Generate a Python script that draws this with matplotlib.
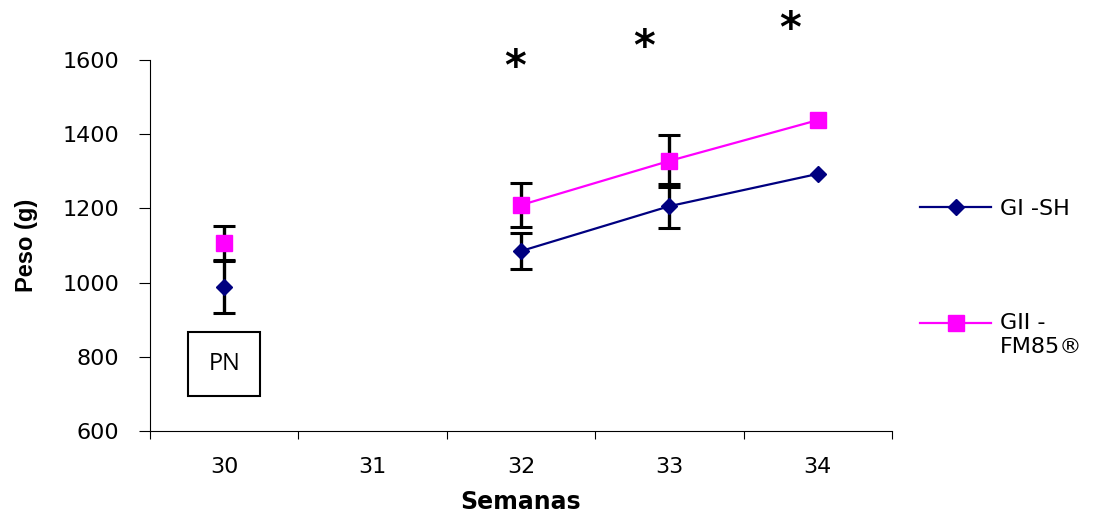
import numpy as np
import matplotlib
matplotlib.use("Agg")
import matplotlib.pyplot as plt
from matplotlib.lines import Line2D
from matplotlib.legend_handler import HandlerLine2D

semanas = ["30", "31", "32", "33", "34"]
gi_sh = [988, np.nan, 1085, 1206, 1293]
gi_sh_err = [70, np.nan, 49, 60, np.nan]
gii_fm85 = [1107, np.nan, 1209, 1328, 1438]
gii_fm85_err = [45, np.nan, 59, 70, np.nan]
labels = ["GI -SH", "GII -\nFM85®"]
star_pos = [(1.96, 1578), (2.83, 1632), (3.81, 1680)]

plt.rcParams['font.family'] = ['DejaVu Sans']


class TopLine(HandlerLine2D):
    # put the handle level with the first line of a two-line label
    def __init__(self, shift=0, **kw):
        super().__init__(**kw)
        self.shift = shift

    def create_artists(self, legend, orig_handle, xdescent, ydescent,
                       width, height, fontsize, trans):
        arts = super().create_artists(legend, orig_handle, xdescent, ydescent,
                                      width, height, fontsize, trans)
        for a in arts:
            a.set_ydata(np.asarray(a.get_ydata()) + self.shift)
        return arts


fig = plt.figure(figsize=(11.1, 5.17), dpi=100)
ax = fig.add_axes([150 / 1110, 86 / 517, 742 / 1110, 371 / 517])

x = np.arange(len(semanas))
navy = "#000080"
magenta = "#ff00ff"

# error bars behind the markers
ax.errorbar(x, gi_sh, yerr=gi_sh_err, fmt="none", ecolor="black",
            elinewidth=2.4, capsize=8, capthick=2.2, zorder=2)
ax.errorbar(x, gii_fm85, yerr=gii_fm85_err, fmt="none", ecolor="black",
            elinewidth=2.4, capsize=8, capthick=2.2, zorder=2)

ax.plot(x, gi_sh, color=navy, marker="D", markersize=8, lw=1.6, zorder=3)
ax.plot(x, gii_fm85, color=magenta, marker="s", markersize=11, lw=1.6, zorder=3)

ax.set_xlim(-0.5, 4.5)
ax.set_ylim(600, 1600)
ax.set_yticks(range(600, 1601, 200))
ax.set_xticks(np.arange(-0.5, 4.6, 1))
ax.set_xticklabels([])
ax.set_xticks(x, minor=True)
ax.set_xticklabels(semanas, minor=True)
ax.tick_params(axis="x", which="minor", length=0, pad=19, labelsize=16)
ax.tick_params(axis="x", which="major", length=6, direction="out")
ax.tick_params(axis="y", length=8, direction="out", labelsize=16, pad=14)
for s in ["top", "right"]:
    ax.spines[s].set_visible(False)

ax.set_ylabel("Peso (g)", fontsize=17, fontweight="bold",
              family=["Liberation Sans", "DejaVu Sans"])
ax.yaxis.set_label_coords(-0.151, 0.5)
ax.set_xlabel("Semanas", fontsize=17, fontweight="bold", va="center")
ax.xaxis.set_label_coords(0.5, (431 - 502) / 371)

# PN box
ax.text(0, 780, "PN", fontsize=17, family=["Open Sans", "DejaVu Sans"],
        ha="center", va="center",
        bbox=dict(boxstyle="square,pad=0.85", fc="white", ec="black", lw=1.5))

for sx, sy in star_pos:
    ax.text(sx, sy, "*", fontsize=30, fontweight="bold", ha="center",
            va="center", clip_on=False)

handles = [Line2D([], [], color=navy, marker="D", markersize=8, lw=1.6),
           Line2D([], [], color=magenta, marker="s", markersize=11, lw=1.6)]
fig.legend(handles, labels, loc="upper left",
           bbox_to_anchor=(900 / 1110, 1 - 179 / 517),
           frameon=False, fontsize=16, handlelength=3.2, handletextpad=0.4,
           labelspacing=4.25,
           handler_map={handles[1]: TopLine(shift=9)})

fig.savefig("out.png", dpi=100)
